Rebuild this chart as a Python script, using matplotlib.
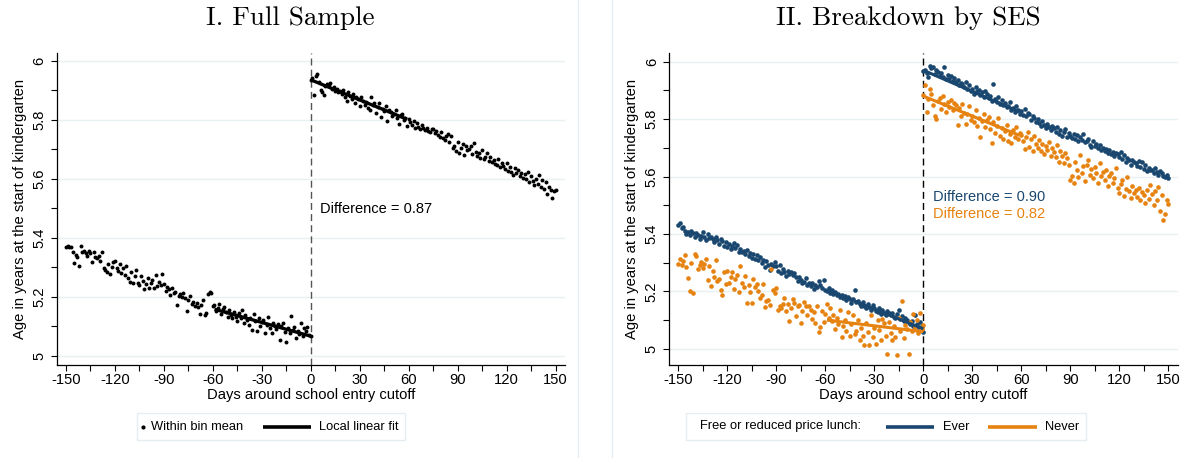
import numpy as np
import matplotlib
matplotlib.use("Agg")
import matplotlib.pyplot as plt
from matplotlib.lines import Line2D
from matplotlib.patches import Rectangle

plt.rcParams["font.family"] = ["Liberation Sans", "DejaVu Sans"]
plt.rcParams["axes.unicode_minus"] = False

# ---------------------------------------------------------------- data
days_left = np.arange(-150, 1)
days_right = np.arange(0, 151)

full_left = [
    5.368, 5.371, 5.369, 5.370, 5.352, 5.315, 5.343, 5.334, 5.305, 5.371,
    5.352, 5.356, 5.348, 5.337, 5.355, 5.349, 5.318, 5.352, 5.336, 5.331,
    5.338, 5.322, 5.351, 5.297, 5.290, 5.285, 5.312, 5.278, 5.302, 5.316,
    5.320, 5.297, 5.288, 5.311, 5.281, 5.296, 5.272, 5.305, 5.262, 5.251,
    5.283, 5.246, 5.269, 5.292, 5.248, 5.239, 5.271, 5.253, 5.226, 5.244,
    5.262, 5.229, 5.247, 5.258, 5.228, 5.274, 5.237, 5.249, 5.241, 5.276,
    5.244, 5.218, 5.233, 5.226, 5.207, 5.229, 5.212, 5.215, 5.173, 5.203,
    5.208, 5.200, 5.212, 5.196, 5.152, 5.188, 5.203, 5.176, 5.181, 5.169,
    5.178, 5.166, 5.142, 5.172, 5.188, 5.138, 5.146, 5.208, 5.217, 5.212,
    5.168, 5.172, 5.151, 5.163, 5.176, 5.142, 5.158, 5.165, 5.147, 5.131,
    5.154, 5.138, 5.126, 5.149, 5.132, 5.118, 5.145, 5.129, 5.154, 5.110,
    5.138, 5.122, 5.104, 5.127, 5.088, 5.142, 5.117, 5.083, 5.126, 5.099,
    5.113, 5.121, 5.077, 5.105, 5.132, 5.094, 5.078, 5.110, 5.101, 5.089,
    5.106, 5.052, 5.099, 5.112, 5.081, 5.047, 5.092, 5.075, 5.133, 5.088,
    5.098, 5.058, 5.084, 5.072, 5.111, 5.067, 5.094, 5.083, 5.098, 5.071,
    5.066,
]
full_right = [
    5.936, 5.941, 5.883, 5.948, 5.955, 5.928, 5.902, 5.893, 5.884, 5.916,
    5.921, 5.919, 5.925, 5.906, 5.911, 5.897, 5.905, 5.894, 5.899, 5.887,
    5.902, 5.879, 5.864, 5.895, 5.882, 5.870, 5.889, 5.858, 5.876, 5.871,
    5.847, 5.878, 5.865, 5.852, 5.861, 5.841, 5.835, 5.877, 5.849, 5.856,
    5.823, 5.844, 5.858, 5.811, 5.837, 5.829, 5.848, 5.795, 5.832, 5.826,
    5.812, 5.819, 5.834, 5.808, 5.786, 5.815, 5.821, 5.798, 5.806, 5.779,
    5.803, 5.792, 5.783, 5.796, 5.771, 5.788, 5.777, 5.769, 5.782, 5.774,
    5.766, 5.773, 5.761, 5.758, 5.770, 5.768, 5.754, 5.762, 5.749, 5.741,
    5.759, 5.738, 5.731, 5.745, 5.752, 5.726, 5.744, 5.703, 5.712, 5.696,
    5.724, 5.689, 5.705, 5.718, 5.681, 5.710, 5.697, 5.702, 5.712, 5.684,
    5.723, 5.692, 5.676, 5.688, 5.671, 5.698, 5.667, 5.674, 5.689, 5.662,
    5.675, 5.658, 5.665, 5.651, 5.647, 5.668, 5.639, 5.654, 5.644, 5.632,
    5.655, 5.627, 5.641, 5.622, 5.614, 5.636, 5.618, 5.629, 5.608, 5.621,
    5.604, 5.615, 5.598, 5.622, 5.588, 5.609, 5.594, 5.578, 5.601, 5.583,
    5.612, 5.571, 5.596, 5.566, 5.588, 5.548, 5.573, 5.562, 5.536, 5.557,
    5.561,
]

ever_left = [
    5.433, 5.438, 5.421, 5.424, 5.412, 5.401, 5.408, 5.397, 5.412, 5.404,
    5.389, 5.403, 5.395, 5.381, 5.392, 5.406, 5.388, 5.378, 5.399, 5.386,
    5.391, 5.384, 5.372, 5.388, 5.379, 5.366, 5.384, 5.375, 5.359, 5.371,
    5.356, 5.364, 5.348, 5.359, 5.368, 5.352, 5.361, 5.336, 5.349, 5.338,
    5.341, 5.329, 5.345, 5.322, 5.335, 5.318, 5.331, 5.312, 5.326, 5.309,
    5.319, 5.298, 5.311, 5.284, 5.305, 5.291, 5.276, 5.297, 5.288, 5.302,
    5.287, 5.271, 5.293, 5.264, 5.279, 5.268, 5.255, 5.272, 5.261, 5.266,
    5.258, 5.264, 5.249, 5.236, 5.252, 5.241, 5.229, 5.233, 5.247, 5.224,
    5.231, 5.219, 5.228, 5.208, 5.224, 5.215, 5.236, 5.222, 5.211, 5.241,
    5.206, 5.201, 5.213, 5.194, 5.205, 5.192, 5.198, 5.186, 5.191, 5.179,
    5.188, 5.176, 5.184, 5.169, 5.181, 5.172, 5.161, 5.174, 5.206, 5.163,
    5.168, 5.157, 5.149, 5.162, 5.151, 5.142, 5.158, 5.147, 5.136, 5.152,
    5.141, 5.133, 5.128, 5.144, 5.122, 5.137, 5.126, 5.118, 5.131, 5.124,
    5.119, 5.125, 5.112, 5.108, 5.121, 5.136, 5.104, 5.115, 5.098, 5.109,
    5.101, 5.092, 5.086, 5.098, 5.079, 5.118, 5.088, 5.076, 5.094, 5.081,
    5.058,
]
ever_right = [
    5.968, 5.972, 5.961, 5.948, 5.985, 5.977, 5.982, 5.958, 5.971, 5.964,
    5.951, 5.962, 5.946, 5.983, 5.938, 5.954, 5.941, 5.949, 5.932, 5.944,
    5.928, 5.935, 5.917, 5.926, 5.921, 5.913, 5.928, 5.906, 5.919, 5.897,
    5.904, 5.889, 5.911, 5.896, 5.902, 5.884, 5.893, 5.878, 5.899, 5.887,
    5.872, 5.881, 5.864, 5.921, 5.869, 5.858, 5.876, 5.852, 5.866, 5.849,
    5.856, 5.841, 5.847, 5.861, 5.832, 5.838, 5.826, 5.844, 5.831, 5.818,
    5.827, 5.813, 5.834, 5.809, 5.821, 5.816, 5.798, 5.812, 5.804, 5.791,
    5.802, 5.788, 5.776, 5.795, 5.781, 5.769, 5.784, 5.772, 5.763, 5.777,
    5.768, 5.754, 5.771, 5.749, 5.762, 5.741, 5.756, 5.766, 5.738, 5.751,
    5.742, 5.735, 5.748, 5.729, 5.744, 5.723, 5.736, 5.727, 5.747, 5.719,
    5.724, 5.731, 5.711, 5.703, 5.722, 5.706, 5.714, 5.698, 5.709, 5.692,
    5.701, 5.688, 5.697, 5.682, 5.693, 5.679, 5.686, 5.671, 5.683, 5.677,
    5.668, 5.684, 5.661, 5.674, 5.649, 5.666, 5.657, 5.641, 5.659, 5.652,
    5.647, 5.638, 5.655, 5.632, 5.649, 5.626, 5.641, 5.618, 5.631, 5.623,
    5.624, 5.612, 5.628, 5.616, 5.607, 5.621, 5.611, 5.603, 5.598, 5.607,
    5.594,
]

never_left = [
    5.294, 5.312, 5.291, 5.305, 5.327, 5.286, 5.246, 5.201, 5.298, 5.193,
    5.331, 5.322, 5.278, 5.291, 5.302, 5.283, 5.296, 5.312, 5.241, 5.289,
    5.219, 5.271, 5.252, 5.309, 5.236, 5.243, 5.206, 5.188, 5.268, 5.226,
    5.271, 5.231, 5.251, 5.268, 5.209, 5.242, 5.256, 5.198, 5.287, 5.228,
    5.215, 5.254, 5.159, 5.223, 5.198, 5.159, 5.244, 5.216, 5.227, 5.202,
    5.178, 5.186, 5.225, 5.146, 5.168, 5.171, 5.153, 5.277, 5.205, 5.193,
    5.213, 5.134, 5.151, 5.143, 5.156, 5.176, 5.132, 5.158, 5.097, 5.142,
    5.175, 5.161, 5.116, 5.148, 5.152, 5.089, 5.131, 5.163, 5.148, 5.119,
    5.151, 5.137, 5.104, 5.128, 5.091, 5.148, 5.059, 5.077, 5.132, 5.094,
    5.122, 5.158, 5.107, 5.141, 5.096, 5.118, 5.071, 5.109, 5.087, 5.136,
    5.043, 5.079, 5.102, 5.061, 5.129, 5.045, 5.088, 5.117, 5.052, 5.063,
    5.102, 5.031, 5.074, 5.046, 5.012, 5.089, 5.058, 5.014, 5.118, 5.042,
    5.073, 5.018, 5.099, 5.065, 5.031, 5.104, 5.089, 5.044, 4.982, 5.092,
    5.056, 5.032, 5.079, 5.041, 4.978, 5.107, 5.063, 5.168, 5.037, 5.082,
    5.071, 4.984, 5.092, 5.064, 5.121, 5.078, 5.099, 5.056, 5.124, 5.069,
    5.084,
]
never_right = [
    5.884, 5.917, 5.826, 5.871, 5.903, 5.889, 5.848, 5.812, 5.801, 5.864,
    5.872, 5.836, 5.879, 5.854, 5.823, 5.861, 5.842, 5.867, 5.832, 5.856,
    5.848, 5.779, 5.838, 5.809, 5.852, 5.821, 5.784, 5.816, 5.845, 5.797,
    5.812, 5.789, 5.831, 5.776, 5.804, 5.739, 5.792, 5.818, 5.771, 5.798,
    5.808, 5.765, 5.717, 5.789, 5.752, 5.776, 5.804, 5.741, 5.769, 5.732,
    5.758, 5.781, 5.722, 5.749, 5.716, 5.763, 5.738, 5.771, 5.729, 5.752,
    5.744, 5.722, 5.697, 5.738, 5.756, 5.703, 5.731, 5.689, 5.742, 5.714,
    5.701, 5.726, 5.688, 5.712, 5.679, 5.706, 5.694, 5.719, 5.671, 5.698,
    5.685, 5.667, 5.709, 5.651, 5.688, 5.672, 5.646, 5.681, 5.663, 5.639,
    5.589, 5.603, 5.578, 5.651, 5.622, 5.597, 5.674, 5.613, 5.638, 5.584,
    5.641, 5.659, 5.607, 5.626, 5.594, 5.632, 5.611, 5.578, 5.646, 5.602,
    5.616, 5.589, 5.624, 5.568, 5.603, 5.611, 5.577, 5.596, 5.628, 5.561,
    5.542, 5.573, 5.589, 5.531, 5.556, 5.597, 5.548, 5.526, 5.567, 5.541,
    5.553, 5.528, 5.561, 5.517, 5.546, 5.534, 5.509, 5.552, 5.523, 5.571,
    5.538, 5.502, 5.549, 5.517, 5.563, 5.481, 5.534, 5.449, 5.471, 5.518,
    5.503,
]

# local linear fits: value at the cutoff and slope per day, [below, above]
fit_bandwidth = 59
full_fit_at_cutoff = [5.066, 5.936]
full_fit_slope = [-0.00155, -0.00227]
ever_fit_at_cutoff = [5.070, 5.970]
ever_fit_slope = [-0.00229, -0.00246]
never_fit_at_cutoff = [5.060, 5.880]
never_fit_slope = [-0.00068, -0.00232]

x_ticks = list(range(-150, 151, 30))
y_ticks = [5.0, 5.2, 5.4, 5.6, 5.8, 6.0]

BLUE = "#1a476f"
ORANGE = "#e6820f"
GRID = "#e9f0f3"
FRAME = "#e6edf1"

W, H = 1191, 458
fig = plt.figure(figsize=(W / 100, H / 100), dpi=100)
fig.patch.set_facecolor("white")


def px_axes(left, top, right, bottom):
    return fig.add_axes([left / W, 1 - bottom / H, (right - left) / W, (bottom - top) / H])


def fit_segments(at_cutoff, slope):
    xl = np.array([-fit_bandwidth, 0])
    xr = np.array([0, fit_bandwidth])
    return (xl, at_cutoff[0] + slope[0] * xl), (xr, at_cutoff[1] + slope[1] * xr)


def style_axes(ax, ylim):
    ax.set_xlim(-155.5, 155.8)
    ax.set_ylim(*ylim)
    ax.set_xticks(x_ticks)
    ax.set_xticks(range(-135, 151, 30), minor=True)
    ax.set_yticks(y_ticks)
    ax.set_yticklabels([f"{v:g}" for v in y_ticks])
    ax.set_yticks([5.1, 5.3, 5.5, 5.7, 5.9], minor=True)
    for s in ("top", "right"):
        ax.spines[s].set_visible(False)
    for s in ("left", "bottom"):
        ax.spines[s].set_linewidth(0.9)
    ax.tick_params(axis="both", which="both", length=4.5, width=0.8, labelsize=10.6)
    ax.tick_params(axis="x", pad=1.5)
    ax.tick_params(axis="y", pad=3)
    for lab in ax.get_yticklabels():
        lab.set_rotation(90)
        lab.set_va("center")
    ax.grid(axis="y", which="major", color=GRID, linewidth=1.0)
    ax.set_axisbelow(True)
    ax.set_xlabel("Days around school entry cutoff", fontsize=10.6, labelpad=0.5)
    ax.set_ylabel("Age in years at the start of kindergarten", fontsize=10.6, labelpad=4)


# panel frames
fig.add_artist(Line2D([578 / W, 578 / W], [0, 1], color=FRAME, lw=1.0))
fig.add_artist(Line2D([612 / W, 612 / W], [0, 1], color=FRAME, lw=1.0))

# ---------------------------------------------------------------- panel I
ax1 = px_axes(57, 53, 565, 365)
style_axes(ax1, (4.968, 6.027))
ax1.axvline(0, color="#555555", lw=1.0, ls=(0, (5, 3)), zorder=1)
ax1.scatter(days_left, full_left, s=8, color="black", linewidths=0, zorder=3)
ax1.scatter(days_right, full_right, s=8, color="black", linewidths=0, zorder=3)
for xs, ys in fit_segments(full_fit_at_cutoff, full_fit_slope):
    ax1.plot(xs, ys, color="black", lw=2.4, zorder=4, solid_capstyle="butt")
full_diff = full_fit_at_cutoff[1] - full_fit_at_cutoff[0]
ax1.text(5.5, 5.498, f"Difference = {full_diff:.2f}", fontsize=10.5, va="center", ha="left")
fig.text(290 / W, 1 - 18 / H, "I. Full Sample", family="cmr10", fontsize=19.5,
         ha="center", va="center")

# legend I
fig.add_artist(Rectangle((137 / W, 1 - 440 / H), (405 - 137) / W, 27 / H,
                         transform=fig.transFigure, facecolor="white",
                         edgecolor=FRAME, lw=1.0))
fig.add_artist(Line2D([142.5 / W], [1 - 426.5 / H], marker="o", markersize=2.0,
                      color="black", lw=0))
fig.text(151 / W, 1 - 426.5 / H, "Within bin mean", fontsize=9.3, va="center", ha="left")
fig.add_artist(Line2D([263 / W, 311 / W], [1 - 426.5 / H] * 2, color="black", lw=2.6,
                      solid_capstyle="butt"))
fig.text(319 / W, 1 - 426.5 / H, "Local linear fit", fontsize=9.3, va="center", ha="left")

# ---------------------------------------------------------------- panel II
ax2 = px_axes(669.3, 53, 1177.7, 365)
style_axes(ax2, (4.944, 6.030))
ax2.axvline(0, color="black", lw=1.0, ls=(0, (5, 3)), zorder=1)
ax2.scatter(days_left, ever_left, s=11, color=BLUE, linewidths=0, zorder=3)
ax2.scatter(days_right, ever_right, s=11, color=BLUE, linewidths=0, zorder=3)
ax2.scatter(days_left, never_left, s=11, color=ORANGE, linewidths=0, zorder=3)
ax2.scatter(days_right, never_right, s=11, color=ORANGE, linewidths=0, zorder=3)
for xs, ys in fit_segments(ever_fit_at_cutoff, ever_fit_slope):
    ax2.plot(xs, ys, color=BLUE, lw=2.2, zorder=4, solid_capstyle="butt")
for xs, ys in fit_segments(never_fit_at_cutoff, never_fit_slope):
    ax2.plot(xs, ys, color=ORANGE, lw=2.2, zorder=4, solid_capstyle="butt")
ever_diff = ever_fit_at_cutoff[1] - ever_fit_at_cutoff[0]
never_diff = never_fit_at_cutoff[1] - never_fit_at_cutoff[0]
ax2.text(6.0, 5.528, f"Difference = {ever_diff:.2f}", color=BLUE, fontsize=10.5,
         va="center", ha="left")
ax2.text(6.0, 5.469, f"Difference = {never_diff:.2f}", color=ORANGE, fontsize=10.5,
         va="center", ha="left")
fig.text(908 / W, 1 - 18 / H, "II. Breakdown by SES", family="cmr10", fontsize=19.5,
         ha="center", va="center")

# legend II
fig.add_artist(Rectangle((686 / W, 1 - 440 / H), (1086 - 686) / W, 27 / H,
                         transform=fig.transFigure, facecolor="white",
                         edgecolor=FRAME, lw=1.0))
fig.text(700 / W, 1 - 426.5 / H, "Free or reduced price lunch:", fontsize=9.3,
         va="center", ha="left")
fig.add_artist(Line2D([886 / W, 934 / W], [1 - 426.5 / H] * 2, color=BLUE, lw=2.6,
                      solid_capstyle="butt"))
fig.text(943 / W, 1 - 426.5 / H, "Ever", fontsize=9.3, va="center", ha="left")
fig.add_artist(Line2D([988 / W, 1037 / W], [1 - 426.5 / H] * 2, color=ORANGE, lw=2.6,
                      solid_capstyle="butt"))
fig.text(1045 / W, 1 - 426.5 / H, "Never", fontsize=9.3, va="center", ha="left")

fig.savefig("out.png", dpi=100)
